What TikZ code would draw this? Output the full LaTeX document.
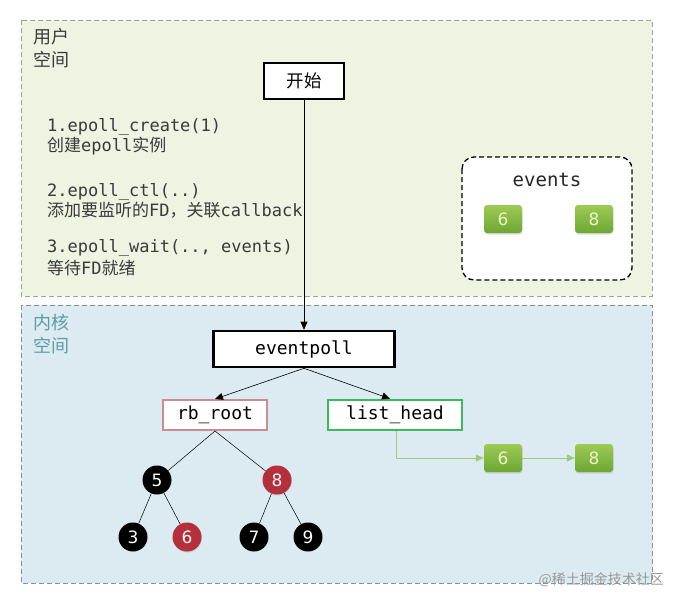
\documentclass[tikz,border=0pt]{standalone}
\usepackage{fontspec}
\setmainfont{DejaVu Sans}
\setmonofont{DejaVu Sans Mono}
\newfontfamily\cjk{Noto Sans CJK SC}
\usetikzlibrary{arrows.meta,shadows}
\definecolor{userbg}{HTML}{EEF3E2}
\definecolor{userln}{HTML}{9AA88E}
\definecolor{kernbg}{HTML}{DCEBF1}
\definecolor{kernln}{HTML}{7F9598}
\definecolor{kerntx}{HTML}{5E9CA6}
\definecolor{txtgray}{HTML}{3A3A3A}
\definecolor{rbred}{HTML}{B3303C}
\definecolor{rbpink}{HTML}{C98C93}
\definecolor{lhgreen}{HTML}{3CB95C}
\definecolor{gtop}{HTML}{9CCB55}
\definecolor{gbot}{HTML}{6DA632}
\definecolor{gtext}{HTML}{EEF6C8}
\definecolor{glink}{HTML}{A3C878}
\begin{document}
\begin{tikzpicture}[x=1pt,y=-1pt,
  zone/.style={dashed,dash pattern=on 5pt off 3pt,line width=0.9pt},
  thickbox/.style={draw=black,line width=2.6pt,fill=white,inner sep=0pt},
  fdbox/.style={rounded corners=3pt,top color=gtop,bottom color=gbot,draw=none,
    minimum width=38pt,minimum height=28pt,text=gtext,font=\fontsize{17}{19}\selectfont,
    drop shadow={shadow xshift=0.5pt,shadow yshift=-1.5pt,opacity=0.25}},
  rbnode/.style={circle,minimum size=29pt,inner sep=0pt,text=white,font=\fontsize{17}{19}\selectfont},
  blk/.style={rbnode,fill=black},
  red/.style={rbnode,fill=rbred,text=white!90!pink,drop shadow={shadow xshift=0.5pt,shadow yshift=-1pt,opacity=0.25}},
  codetxt/.style={anchor=west,text=txtgray,font=\ttfamily\fontsize{17}{19}\selectfont,inner sep=0pt},
  boxtxt/.style={font=\ttfamily\fontsize{18}{20}\selectfont},
  arr/.style={-{Triangle[length=8pt,width=7pt]},line width=0.6pt},
  garr/.style={draw=glink,-{Triangle[length=8pt,width=7pt]},line width=0.7pt}
]
\useasboundingbox (0,0) rectangle (680,606);
% zones
\draw[zone,draw=userln,fill=userbg] (21,20) rectangle (652,296);
\draw[zone,draw=kernln,fill=kernbg] (21,305) rectangle (652,583);
\node[anchor=north west,align=left,text=txtgray,font=\cjk\fontsize{18}{23}\selectfont,inner sep=0pt] (ulabel) at (33,28) {用户\\空间};
\node[anchor=north west,align=left,text=kerntx,font=\cjk\fontsize{18}{23}\selectfont,inner sep=0pt] (klabel) at (33,314) {内核\\空间};
% code text
\node[codetxt] (t1) at (47,127) {1.epoll\_create(1)};
\node[codetxt] (t1b) at (47,146) {{\cjk 创建}epoll{\cjk 实例}};
\node[codetxt] (t2) at (47,192) {2.epoll\_ctl(..)};
\node[codetxt] (t2b) at (47,210) {{\cjk 添加要监听的}FD{\cjk ，关联}callback};
\node[codetxt] (t3) at (47,248) {3.epoll\_wait(.., events)};
\node[codetxt] (t3b) at (47,268) {{\cjk 等待}FD{\cjk 就绪}};
% events box
\draw[dashed,dash pattern=on 5pt off 3pt,line width=1.3pt,rounded corners=12pt,fill=white] (462,157) rectangle (632,280);
\node[font=\ttfamily\fontsize{19}{21}\selectfont,text=black!85] (evt) at (547,180) {events};
\node[fdbox] (e6) at (503,219) {6};
\node[fdbox] (e8) at (594,219) {8};
% start
\node[thickbox,minimum width=80pt,minimum height=36pt,font=\cjk\fontsize{17.5}{19}\selectfont] (start) at (304,81) {开始};
\node[thickbox,boxtxt,minimum width=181pt,minimum height=36pt] (ep) at (304,349) {eventpoll};
\draw[arr] (start.south) -- (ep.north);
% rb_root and list_head
\node[draw=rbpink,line width=2pt,fill=white,minimum width=104pt,minimum height=30pt,boxtxt,inner sep=0pt] (rb) at (215,415) {rb\_root};
\node[draw=lhgreen,line width=2.6pt,fill=white,minimum width=134pt,minimum height=30pt,boxtxt,inner sep=0pt] (lh) at (395,415) {list\_head};
\draw[arr] (ep.south) -- (rb.north);
\draw[arr] (ep.south) -- ([xshift=-5pt]lh.north);
% tree
\node[blk] (n5) at (157,480) {5};
\node[red] (n8) at (277,480) {8};
\node[blk] (n3) at (133,537) {3};
\node[red] (n6) at (187,537) {6};
\node[blk] (n7) at (254,537) {7};
\node[blk] (n9) at (308,537) {9};
\draw[line width=0.5pt] (rb.south) -- (n5);
\draw[line width=0.5pt] (rb.south) -- (n8);
\draw[line width=0.5pt] (n5) -- (n3);
\draw[line width=0.5pt] (n5) -- (n6);
\draw[line width=0.5pt] (n8) -- (n7);
\draw[line width=0.5pt] (n8) -- (n9);
% ready list
\node[fdbox] (r6) at (503,458) {6};
\node[fdbox] (r8) at (594,458) {8};
\coordinate (lhb) at ([xshift=1pt]lh.south);
\draw[garr] (lhb) |- (r6.west);
\draw[garr] (r6.east) -- (r8.west);
% watermark
\node[anchor=east,text=black!40,font=\cjk\fontsize{14}{16}\selectfont,inner sep=0pt] (wm) at (664,580) {@稀土掘金技术社区};
\end{tikzpicture}
\end{document}
